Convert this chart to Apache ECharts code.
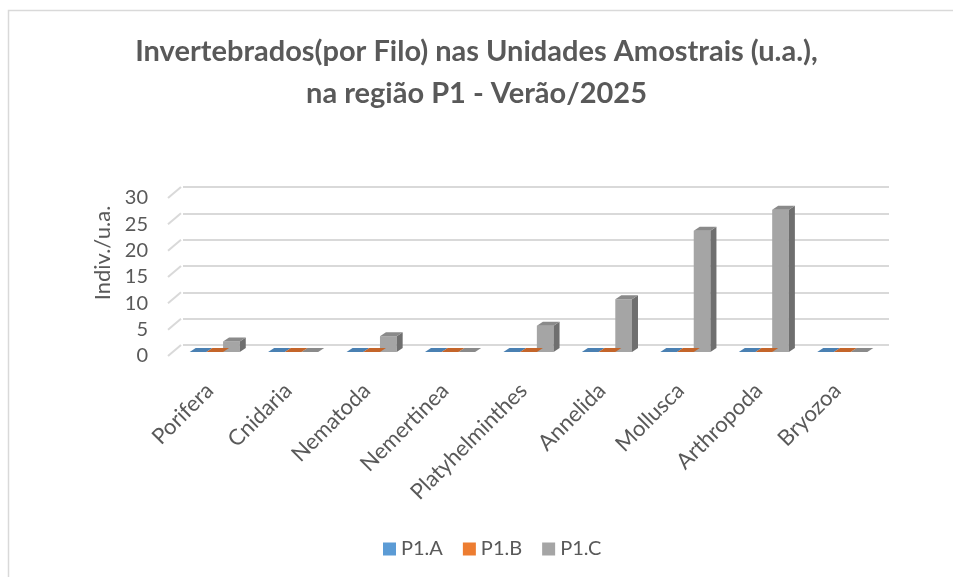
<!DOCTYPE html>
<html><head><meta charset="utf-8">
<script src="https://cdn.jsdelivr.net/npm/echarts@6/dist/echarts.min.js"></script>
<style>html,body{margin:0;padding:0;background:#fff}#c{width:953px;height:577px}</style>
</head><body><div id="c"></div>
<script>
const categories = ['Porifera','Cnidaria','Nematoda','Nemertinea','Platyhelminthes','Annelida','Mollusca','Arthropoda','Bryozoa'];
const seriesNames = ['P1.A','P1.B','P1.C'];
const p1a = [0,0,0,0,0,0,0,0,0];
const p1b = [0,0,0,0,0,0,0,0,0];
const p1c = [2,0,3,0,5,10,23,27,0];
const yTicks = [0,5,10,15,20,25,30];
const colors = ['#5b9bd5','#ed7d31','#a5a5a5'];
const topColors = ['#4a80b2','#c4652a','#8a8a8a'];
const sideColors = ['#3d6a94','#a55422','#6f6f6f'];

const FONT = 'Lato';
const TXT = '#595959';
const BW = 16.7;      // bar width
const DEP = [6,-4];   // bar depth

function barRenderer(s){
  return function(params, api){
    const idx = api.value(0), v = api.value(1);
    const base = api.coord([idx, 0]);
    const top = api.coord([idx, v]);
    const x0 = base[0] + (s-1)*BW - BW/2;
    const x1 = x0 + BW;
    const yb = base[1];
    const yt = top[1];
    const children = [];
    if (yb - yt > 0.5) {
      children.push({type:'polygon', shape:{points:[[x0,yt],[x1,yt],[x1,yb],[x0,yb]]}, style:{fill:colors[s]}});
      if (s === 2) {
        children.push({type:'polygon', shape:{points:[[x1,yt],[x1+DEP[0],yt+DEP[1]],[x1+DEP[0],yb+DEP[1]],[x1,yb]]}, style:{fill:sideColors[s]}});
      }
    }
    children.push({type:'polygon', shape:{points:[[x0,yt],[x1,yt],[x1+DEP[0],yt+DEP[1]],[x0+DEP[0],yt+DEP[1]]]}, style:{fill:topColors[s]}});
    return {type:'group', children};
  };
}

const values = [p1a,p1b,p1c];
const barSeries = values.map((arr,s)=>({
  name: seriesNames[s], type:'custom', xAxisIndex:2, yAxisIndex:2,
  itemStyle:{color:colors[s]},
  renderItem: barRenderer(s),
  data: arr.map((v,i)=>[i,v]),
  z: 10 + (s===2?0:1)
}));

const chart = echarts.init(document.getElementById('c'), null, {renderer:'canvas'});
chart.setOption({
  animation:false,
  backgroundColor:'#fff',
  color: colors,
  graphic:[{type:'rect', shape:{x:8.5,y:10.5,width:1000,height:1000}, style:{fill:'none', stroke:'#d9d9d9', lineWidth:1.5}, z:-1}],
  title:{
    text:'Invertebrados(por Filo) nas Unidades Amostrais (u.a.),\nna região P1 - Verão/2025',
    left:'center', top:26,
    textStyle:{fontFamily:FONT, fontSize:29, fontWeight:'bold', color:TXT, lineHeight:42}
  },
  legend:{
    top:534, left:378, icon:'rect', itemWidth:13, itemHeight:13, itemGap:20,
    data: seriesNames,
    textStyle:{fontFamily:FONT, fontSize:20, color:TXT}
  },
  grid:[
    {left:170, top:198, width:706, height:158},
    {left:183, top:187, width:706, height:158},
    {left:175.5, top:194, width:706, height:158},
    {left:170.5, top:194, width:706, height:158}
  ],
  xAxis:[
    {type:'category', gridIndex:0, data:categories, show:false},
    {type:'category', gridIndex:1, data:categories, show:false},
    {type:'category', gridIndex:2, data:categories, show:false},
    {type:'category', gridIndex:3, data:categories, axisLine:{show:false}, axisTick:{show:false},
     axisLabel:{rotate:45, margin:35, fontFamily:FONT, fontSize:22, color:TXT, interval:0}}
  ],
  yAxis:[
    {type:'value', gridIndex:0, min:0, max:30, interval:5, splitLine:{show:false}, axisLine:{show:false}, axisTick:{show:false},
     axisLabel:{margin:22, fontFamily:FONT, fontSize:20, color:TXT},
     name:'Indiv./u.a.', nameLocation:'middle', nameGap:56, nameRotate:90,
     nameTextStyle:{fontFamily:FONT, fontSize:22, color:TXT, padding:[0,0,0,48]}},
    {type:'value', gridIndex:1, min:0, max:30, interval:5, axisLine:{show:false}, axisTick:{show:false}, axisLabel:{show:false},
     splitLine:{show:true, lineStyle:{color:'#d9d9d9', width:2}}},
    {type:'value', gridIndex:2, min:0, max:30, interval:5, show:false, splitLine:{show:false}},
    {type:'value', gridIndex:3, min:0, max:30, interval:5, show:false, splitLine:{show:false}}
  ],
  series:[
    {type:'custom', name:'_depth', xAxisIndex:0, yAxisIndex:0, silent:true, z:1,
     renderItem:function(params, api){
       const cs = params.coordSys;
       const p = api.coord([0, api.value(0)]);
       return {type:'line', shape:{x1:cs.x-2, y1:p[1], x2:cs.x+11, y2:p[1]-11}, style:{stroke:'#d9d9d9', lineWidth:2}};
     },
     data: yTicks.map(v=>[v])
    },
    ...barSeries
  ]
});
</script></body></html>
